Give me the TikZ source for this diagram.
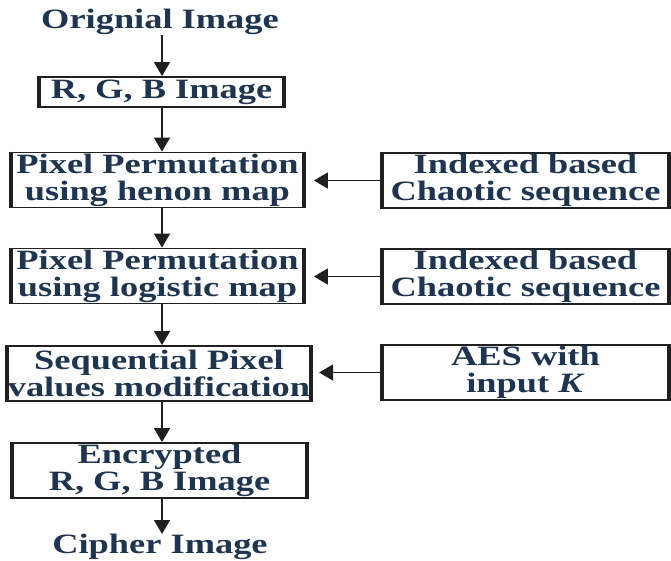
\documentclass[tikz,border=0pt]{standalone}
\usepackage{fontspec}
\newfontfamily\diagfont{Liberation Serif}[FakeStretch=1.3]
\usetikzlibrary{arrows.meta}
\definecolor{txtc}{HTML}{1E3552}
\definecolor{linec}{HTML}{202020}
\tikzset{
  lbl/.style={font=\diagfont\bfseries\fontsize{28}{27}\selectfont, text=txtc, align=center, inner sep=0pt},
  box/.style={lbl, draw=linec, line width=1.8pt, minimum height=55pt, inner sep=0pt},
  sidebars/.style={line width=4.5pt, draw=linec},
  arr/.style={draw=linec, line width=1.5pt, -{Triangle[width=16pt,length=14pt]}},
}
\begin{document}
\begin{tikzpicture}[x=1pt,y=-1pt]
\useasboundingbox (0,0) rectangle (671,560);
\node[lbl] (orig) at (160,22) {Orignial Image};
\node[box, minimum width=243pt, minimum height=30pt] (rgb) at (161.5,92) {R, G, B Image};
\node[box, minimum width=291pt] (b1) at (157.5,180) {Pixel Permutation\\using henon map};
\node[box, minimum width=291pt] (b2) at (157.5,276) {Pixel Permutation\\using logistic map};
\node[box, minimum width=294pt] (b3) at (159,373.5) {Sequential Pixel\\values modification};
\node[box, minimum width=293pt] (b4) at (159.5,470.5) {Encrypted\\R, G, B Image};
\node[lbl] (cipher) at (160,547) {Cipher Image};
\node[box, minimum width=285pt] (r1) at (525.5,180.5) {Indexed based\\Chaotic sequence};
\node[box, minimum width=285pt] (r2) at (525.5,276.5) {Indexed based\\Chaotic sequence};
\node[box, minimum width=285pt] (r3) at (525.5,372.5) {AES with\\input \textit{K}};
\foreach \n in {rgb,b1,b2,b3,b4,r1,r2,r3}{
  \draw[sidebars] (\n.north west) -- (\n.south west);
  \draw[sidebars] (\n.north east) -- (\n.south east);
}
\coordinate (col) at (162,0);
\draw[arr] (orig.south -| col) -- (rgb.north -| col);
\draw[arr] (rgb.south -| col) -- (b1.north -| col);
\draw[arr] (b1.south -| col) -- (b2.north -| col);
\draw[arr] (b2.south -| col) -- (b3.north -| col);
\draw[arr] (b3.south -| col) -- (b4.north -| col);
\draw[arr] (b4.south -| col) -- (cipher.north -| col);
\draw[arr, shorten >=10pt] (r1.west) -- (r1.west -| b1.east);
\draw[arr, shorten >=10pt] (r2.west) -- (r2.west -| b2.east);
\draw[arr, shorten >=8pt] (r3.west) -- (r3.west -| b3.east);
\end{tikzpicture}
\end{document}
